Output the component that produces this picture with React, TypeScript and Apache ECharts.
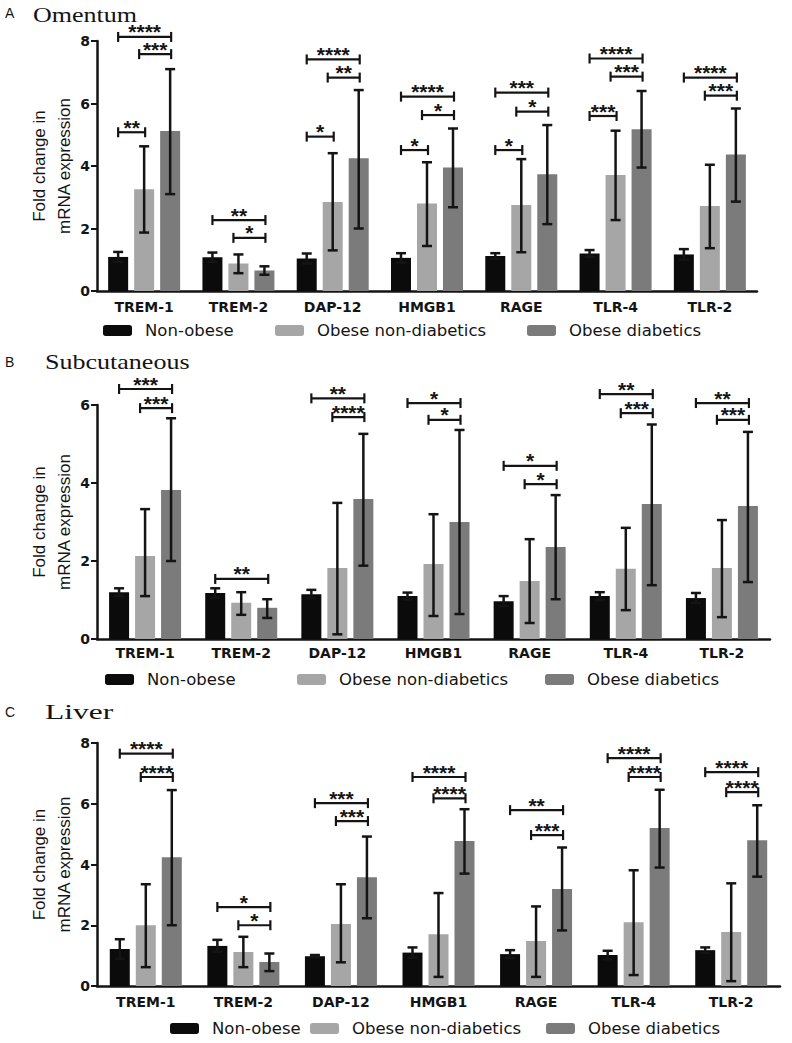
import React, { useEffect, useRef } from "react";
import * as echarts from "echarts";

const categories = ["TREM-1", "TREM-2", "DAP-12", "HMGB1", "RAGE", "TLR-4", "TLR-2"];
const groupNames = ["Non-obese", "Obese non-diabetics", "Obese diabetics"];
const panelTitles = ["Omentum", "Subcutaneous", "Liver"];
const panelLetters = ["A", "B", "C"];
const yMax = [8, 6, 8];

// Omentum
const omNonObese = [1.09, 1.08, 1.04, 1.06, 1.12, 1.2, 1.17];
const omNonObeseHi = [1.25, 1.23, 1.2, 1.21, 1.21, 1.31, 1.34];
const omNonObeseLo = [0.93, 0.93, 0.88, 0.91, 1.03, 1.09, 1.0];
const omObese = [3.26, 0.88, 2.85, 2.8, 2.75, 3.71, 2.72];
const omObeseHi = [4.63, 1.17, 4.41, 4.12, 4.22, 5.13, 4.04];
const omObeseLo = [1.87, 0.57, 1.3, 1.44, 1.24, 2.27, 1.37];
const omDiab = [5.12, 0.66, 4.25, 3.95, 3.74, 5.18, 4.37];
const omDiabHi = [7.1, 0.79, 6.43, 5.2, 5.31, 6.4, 5.84];
const omDiabLo = [3.1, 0.52, 2.0, 2.68, 2.14, 3.95, 2.86];

// Subcutaneous
const scNonObese = [1.2, 1.18, 1.15, 1.1, 0.97, 1.1, 1.05];
const scNonObeseHi = [1.3, 1.3, 1.26, 1.19, 1.1, 1.2, 1.18];
const scNonObeseLo = [1.1, 1.06, 1.04, 1.01, 0.84, 1.0, 0.92];
const scObese = [2.13, 0.93, 1.82, 1.92, 1.49, 1.8, 1.82];
const scObeseHi = [3.33, 1.2, 3.49, 3.2, 2.56, 2.85, 3.05];
const scObeseLo = [1.1, 0.62, 0.12, 0.59, 0.41, 0.74, 0.56];
const scDiab = [3.82, 0.8, 3.59, 3.0, 2.36, 3.46, 3.41];
const scDiabHi = [5.66, 1.02, 5.26, 5.36, 3.69, 5.5, 5.31];
const scDiabLo = [2.0, 0.54, 1.88, 0.64, 1.02, 1.38, 1.46];

// Liver
const lvNonObese = [1.22, 1.32, 0.98, 1.1, 1.05, 1.02, 1.18];
const lvNonObeseHi = [1.54, 1.52, 1.02, 1.27, 1.18, 1.16, 1.27];
const lvNonObeseLo = [0.9, 1.12, 0.94, 0.93, 0.92, 0.88, 1.09];
const lvObese = [2.0, 1.12, 2.04, 1.7, 1.48, 2.1, 1.78];
const lvObeseHi = [3.35, 1.62, 3.35, 3.06, 2.62, 3.81, 3.38];
const lvObeseLo = [0.62, 0.62, 0.78, 0.3, 0.3, 0.36, 0.16];
const lvDiab = [4.24, 0.79, 3.58, 4.77, 3.19, 5.2, 4.8];
const lvDiabHi = [6.45, 1.07, 4.92, 5.82, 4.56, 6.46, 5.95];
const lvDiabLo = [2.0, 0.49, 2.23, 3.7, 1.83, 3.9, 3.6];

// significance brackets: [category index, from group, to group, y level, label]
const omBrackets: [number, number, number, number, string][] = [
  [0, 0, 2, 8.13, "****"], [0, 1, 2, 7.58, "***"], [0, 0, 1, 5.08, "**"],
  [1, 0, 2, 2.27, "**"], [1, 1, 2, 1.7, "*"],
  [2, 0, 2, 7.41, "****"], [2, 1, 2, 6.83, "**"], [2, 0, 1, 4.94, "*"],
  [3, 0, 2, 6.22, "****"], [3, 1, 2, 5.63, "*"], [3, 0, 1, 4.51, "*"],
  [4, 0, 2, 6.35, "***"], [4, 1, 2, 5.74, "*"], [4, 0, 1, 4.51, "*"],
  [5, 0, 2, 7.44, "****"], [5, 1, 2, 6.86, "***"], [5, 0, 1, 5.6, "***"],
  [6, 0, 2, 6.83, "****"], [6, 1, 2, 6.25, "***"],
];
const scBrackets: [number, number, number, number, string][] = [
  [0, 0, 2, 6.41, "***"], [0, 1, 2, 5.92, "***"],
  [1, 0, 2, 1.54, "**"],
  [2, 0, 2, 6.17, "**"], [2, 1, 2, 5.69, "****"],
  [3, 0, 2, 6.05, "*"], [3, 1, 2, 5.62, "*"],
  [4, 0, 2, 4.44, "*"], [4, 1, 2, 3.97, "*"],
  [5, 0, 2, 6.28, "**"], [5, 1, 2, 5.79, "***"],
  [6, 0, 2, 6.05, "**"], [6, 1, 2, 5.62, "***"],
];
const lvBrackets: [number, number, number, number, string][] = [
  [0, 0, 2, 7.65, "****"], [0, 1, 2, 6.88, "****"],
  [1, 0, 2, 2.6, "*"], [1, 1, 2, 2.0, "*"],
  [2, 0, 2, 6.02, "***"], [2, 1, 2, 5.43, "***"],
  [3, 0, 2, 6.88, "****"], [3, 1, 2, 6.18, "****"],
  [4, 0, 2, 5.79, "**"], [4, 1, 2, 4.97, "***"],
  [5, 0, 2, 7.5, "****"], [5, 1, 2, 6.88, "****"],
  [6, 0, 2, 7.04, "****"], [6, 1, 2, 6.38, "****"],
];

const panels = [
  {
    means: [omNonObese, omObese, omDiab],
    his: [omNonObeseHi, omObeseHi, omDiabHi],
    los: [omNonObeseLo, omObeseLo, omDiabLo],
    brackets: omBrackets,
  },
  {
    means: [scNonObese, scObese, scDiab],
    his: [scNonObeseHi, scObeseHi, scDiabHi],
    los: [scNonObeseLo, scObeseLo, scDiabLo],
    brackets: scBrackets,
  },
  {
    means: [lvNonObese, lvObese, lvDiab],
    his: [lvNonObeseHi, lvObeseHi, lvDiabHi],
    los: [lvNonObeseLo, lvObeseLo, lvDiabLo],
    brackets: lvBrackets,
  },
];

const COLORS = ["#0b0b0b", "#a6a6a6", "#7b7b7b"];
const INK = "#141414";
const SLOT = 26;
const GRIDS = [
  { left: 97, top: 41, width: 660, height: 250 },
  { left: 97, top: 405, width: 673, height: 234 },
  { left: 97, top: 743, width: 683, height: 243 },
];
const LABEL_MARGIN = [9, 7, 9];
const TITLE_LAYOUT = [
  { ly: 13, tx: 33, ty: 15, sx: 1.24 },
  { ly: 362, tx: 45, ty: 362, sx: 1.24 },
  { ly: 712, tx: 45, ty: 712, sx: 1.5 },
];
const LEGEND_LAYOUT = [
  { top: 322, lefts: [103, 275, 527] },
  { top: 671, lefts: [105, 297, 545] },
  { top: 1020, lefts: [170, 310, 546] },
];

export default function App() {
  const ref = useRef<HTMLDivElement>(null);
  useEffect(() => {
    document.body.style.margin = "0";
    if (!ref.current) return;
    const chart = echarts.init(ref.current, undefined, { renderer: "svg" });

    const xAxis: any[] = [];
    const yAxis: any[] = [];
    const series: any[] = [];
    const legend: any[] = [];
    const graphic: any[] = [];

    panels.forEach((p, pi) => {
      xAxis.push({
        type: "category",
        gridIndex: pi,
        data: categories,
        axisLine: { lineStyle: { color: INK, width: 2.5 } },
        axisTick: { alignWithLabel: true, length: 5, lineStyle: { color: INK, width: 2 } },
        axisLabel: {
          color: INK,
          fontFamily: "DejaVu Sans",
          fontWeight: "bold",
          fontSize: 14,
          margin: LABEL_MARGIN[pi],
        },
      });
      yAxis.push({
        type: "value",
        gridIndex: pi,
        min: 0,
        max: yMax[pi],
        interval: 2,
        name: "Fold change in\nmRNA expression",
        nameLocation: "middle",
        nameRotate: 90,
        nameGap: 20,
        nameMoveOverlap: false,
        nameTextStyle: { color: INK, fontFamily: "Liberation Sans", fontSize: 17, lineHeight: 25 },
        axisLine: { show: true, lineStyle: { color: INK, width: 2.5 } },
        axisTick: { show: true, length: 6, lineStyle: { color: INK, width: 2 } },
        splitLine: { show: false },
        axisLabel: { color: INK, fontFamily: "DejaVu Sans", fontWeight: "bold", fontSize: 14, margin: 7 },
      });

      p.means.forEach((m, g) => {
        series.push({
          type: "bar",
          name: groupNames[g],
          xAxisIndex: pi,
          yAxisIndex: pi,
          data: m,
          barWidth: 20,
          barGap: "30%",
          itemStyle: { color: COLORS[g] },
          z: 2,
        });
      });

      const errData: number[][] = [];
      p.means.forEach((m, g) => {
        m.forEach((_, ci) => errData.push([ci, p.los[g][ci], p.his[g][ci], g]));
      });
      series.push({
        type: "custom",
        name: "err" + pi,
        xAxisIndex: pi,
        yAxisIndex: pi,
        data: errData,
        encode: { x: 0, y: [1, 2] },
        z: 3,
        clip: false,
        renderItem: (params: any, api: any) => {
          const ci = api.value(0);
          const cx = api.coord([ci, 0])[0] + (api.value(3) - 1) * SLOT;
          const yl = api.coord([ci, api.value(1)])[1];
          const yh = api.coord([ci, api.value(2)])[1];
          const st = { stroke: INK, lineWidth: 2.5 };
          return {
            type: "group",
            children: [
              { type: "line", shape: { x1: cx, y1: yl, x2: cx, y2: yh }, style: st },
              { type: "line", shape: { x1: cx - 5, y1: yh, x2: cx + 5, y2: yh }, style: st },
              { type: "line", shape: { x1: cx - 5, y1: yl, x2: cx + 5, y2: yl }, style: st },
            ],
          };
        },
      });

      const br = p.brackets;
      series.push({
        type: "custom",
        name: "sig" + pi,
        xAxisIndex: pi,
        yAxisIndex: pi,
        data: br.map((b) => [b[0], b[1], b[2], b[3]]),
        encode: { x: 0, y: 3 },
        z: 4,
        clip: false,
        renderItem: (params: any, api: any) => {
          const ci = api.value(0);
          const from = api.value(1);
          const to = api.value(2);
          const cx = api.coord([ci, 0])[0];
          const y = api.coord([ci, api.value(3)])[1];
          const x1 = cx + (from - 1) * SLOT + (from === 1 ? -5 : 0);
          const x2 = cx + (to - 1) * SLOT + 1;
          const st = { stroke: INK, lineWidth: 2.2 };
          return {
            type: "group",
            children: [
              { type: "line", shape: { x1, y1: y, x2, y2: y }, style: st },
              { type: "line", shape: { x1, y1: y - 5, x2: x1, y2: y + 5 }, style: st },
              { type: "line", shape: { x1: x2, y1: y - 5, x2, y2: y + 5 }, style: st },
              {
                type: "text",
                x: (x1 + x2) / 2,
                y: y - 5,
                style: {
                  text: br[params.dataIndex][4],
                  textAlign: "center",
                  textVerticalAlign: "middle",
                  fontSize: 21,
                  fontWeight: "bold",
                  fontFamily: "Liberation Sans",
                  fill: INK,
                },
              },
            ],
          };
        },
      });

      const L = LEGEND_LAYOUT[pi];
      groupNames.forEach((n, g) => {
        legend.push({
          left: L.lefts[g],
          top: L.top,
          padding: 0,
          data: [n],
          icon: "roundRect",
          itemWidth: 29,
          itemHeight: 11,
          selectedMode: false,
          textStyle: { color: INK, fontFamily: "DejaVu Sans", fontSize: 16.5, padding: [0, 0, 0, 8] },
        });
      });

      const T = TITLE_LAYOUT[pi];
      graphic.push({
        type: "text",
        x: 5,
        y: T.ly,
        style: {
          text: panelLetters[pi],
          fontFamily: "Liberation Sans",
          fontSize: 14,
          fill: INK,
          textVerticalAlign: "middle",
        },
      });
      graphic.push({
        type: "text",
        x: T.tx,
        y: T.ty,
        scaleX: T.sx,
        style: {
          text: panelTitles[pi],
          fontFamily: "Liberation Serif",
          fontSize: 21,
          fill: INK,
          textVerticalAlign: "middle",
        },
      });
    });

    chart.setOption({
      animation: false,
      backgroundColor: "#ffffff",
      grid: GRIDS.map((g) => ({ ...g, containLabel: false })),
      xAxis,
      yAxis,
      series,
      legend,
      graphic,
    });
    return () => chart.dispose();
  }, []);
  return <div ref={ref} style={{ width: 792, height: 1043 }} />;
}
